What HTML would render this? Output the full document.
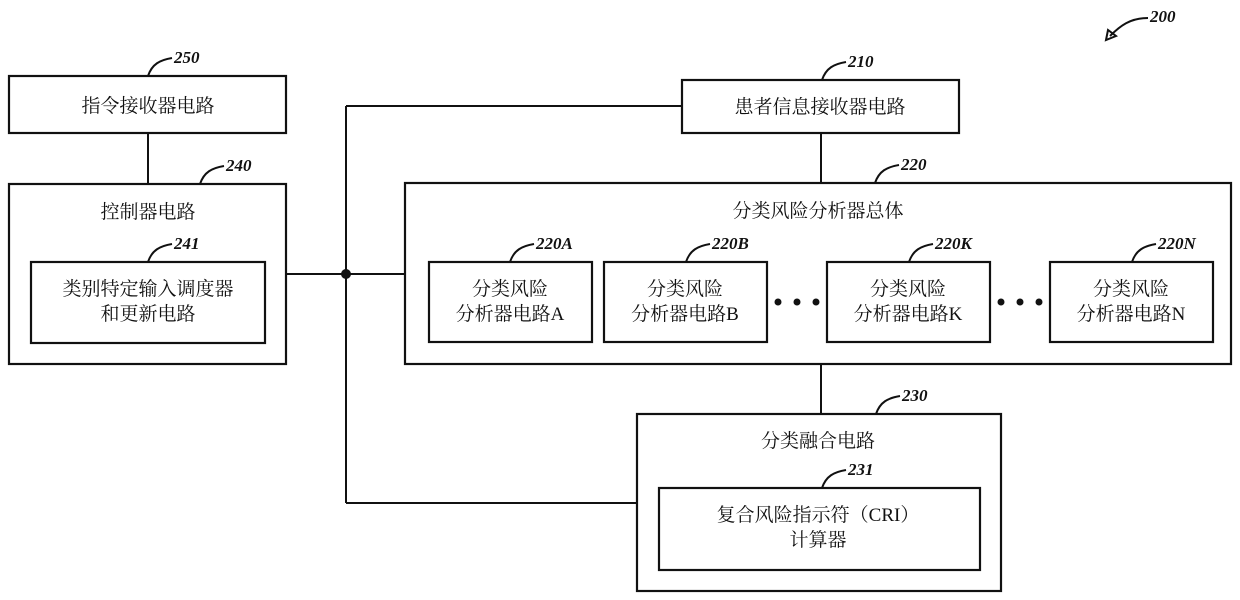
<!DOCTYPE html>
<html><head><meta charset="utf-8"><style>
html,body{margin:0;padding:0;background:#fff;}
svg{display:block;}
.t{font-family:"Liberation Serif","Noto Serif CJK SC","Noto Sans CJK SC",serif;font-size:19px;fill:#111;text-anchor:middle;}
.n{font-family:"Liberation Serif",serif;font-size:17px;font-style:italic;font-weight:bold;fill:#111;}
rect{fill:none;stroke:#111;stroke-width:2.2;}
line,path{stroke:#111;stroke-width:2;fill:none;}
</style></head><body>
<svg width="1240" height="600" viewBox="0 0 1240 600">
<!-- 200 -->
<path d="M1148 18 C1130 18 1120 26 1110 36"/><path d="M1106 40 L1108 30 L1116 36 Z" fill="#111"/>
<text class="n" x="1150" y="22">200</text>

<!-- 250 -->
<rect x="9" y="76" width="277" height="57"/>
<text class="t" x="148" y="112">指令接收器电路</text>
<path d="M148 76 C152 64 160 60 172 58"/><text class="n" x="174" y="63">250</text>
<line x1="148" y1="133" x2="148" y2="184"/>

<!-- 240 -->
<rect x="9" y="184" width="277" height="180"/>
<text class="t" x="148" y="218">控制器电路</text>
<path d="M200 184 C204 172 212 168 224 166"/><text class="n" x="226" y="171">240</text>
<rect x="31" y="262" width="234" height="81"/>
<text class="t" x="148" y="295">类别特定输入调度器</text>
<text class="t" x="148" y="320">和更新电路</text>
<path d="M148 262 C152 250 160 246 172 244"/><text class="n" x="174" y="249">241</text>

<!-- connectors -->
<line x1="286" y1="274" x2="405" y2="274"/>
<circle cx="346" cy="274" r="5" fill="#111"/>
<line x1="346" y1="106" x2="346" y2="503"/>
<line x1="346" y1="106" x2="682" y2="106"/>
<line x1="346" y1="503" x2="637" y2="503"/>
<line x1="821" y1="133" x2="821" y2="183"/>
<line x1="821" y1="364" x2="821" y2="415"/>

<!-- 210 -->
<rect x="682" y="80" width="277" height="53"/>
<text class="t" x="820" y="113">患者信息接收器电路</text>
<path d="M822 80 C826 68 834 64 846 62"/><text class="n" x="848" y="67">210</text>

<!-- 220 -->
<rect x="405" y="183" width="826" height="181"/>
<text class="t" x="818" y="217">分类风险分析器总体</text>
<path d="M875 183 C879 171 887 167 899 165"/><text class="n" x="901" y="170">220</text>

<rect x="429" y="262" width="163" height="80"/>
<text class="t" x="510" y="295">分类风险</text><text class="t" x="510" y="320">分析器电路A</text>
<path d="M510 262 C514 250 522 246 534 244"/><text class="n" x="536" y="249">220A</text>

<rect x="604" y="262" width="163" height="80"/>
<text class="t" x="685" y="295">分类风险</text><text class="t" x="685" y="320">分析器电路B</text>
<path d="M686 262 C690 250 698 246 710 244"/><text class="n" x="712" y="249">220B</text>

<rect x="827" y="262" width="163" height="80"/>
<text class="t" x="908" y="295">分类风险</text><text class="t" x="908" y="320">分析器电路K</text>
<path d="M909 262 C913 250 921 246 933 244"/><text class="n" x="935" y="249">220K</text>

<rect x="1050" y="262" width="163" height="80"/>
<text class="t" x="1131" y="295">分类风险</text><text class="t" x="1131" y="320">分析器电路N</text>
<path d="M1132 262 C1136 250 1144 246 1156 244"/><text class="n" x="1158" y="249">220N</text>

<circle cx="778" cy="302" r="3.5" fill="#111"/><circle cx="797" cy="302" r="3.5" fill="#111"/><circle cx="816" cy="302" r="3.5" fill="#111"/>
<circle cx="1001" cy="302" r="3.5" fill="#111"/><circle cx="1020" cy="302" r="3.5" fill="#111"/><circle cx="1039" cy="302" r="3.5" fill="#111"/>

<!-- 230 -->
<rect x="637" y="414" width="364" height="177"/>
<text class="t" x="818" y="447">分类融合电路</text>
<path d="M876 414 C880 402 888 398 900 396"/><text class="n" x="902" y="401">230</text>
<rect x="659" y="488" width="321" height="82"/>
<text class="t" x="818" y="521">复合风险指示符（CRI）</text>
<text class="t" x="818" y="546">计算器</text>
<path d="M822 488 C826 476 834 472 846 470"/><text class="n" x="848" y="475">231</text>
</svg>
</body></html>
